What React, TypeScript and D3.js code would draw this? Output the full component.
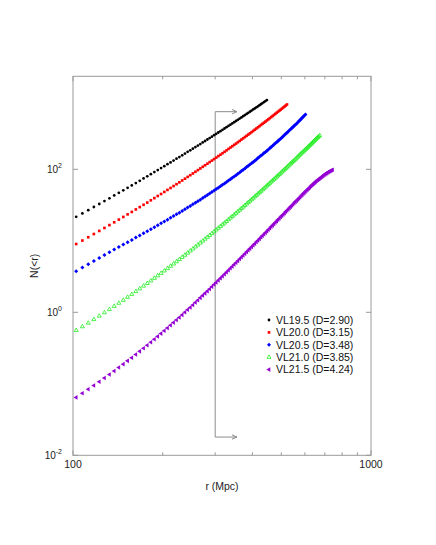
import React from "react";
import * as d3 from "d3";

// radius bins (Mpc), shared by all samples
const radii = [
  102.5, 107.5, 112.5, 117.5, 122.5, 127.5, 132.5, 137.5, 142.5, 147.5,
  152.5, 157.5, 162.5, 167.5, 172.5, 177.5, 182.5, 187.5, 192.5, 197.5,
  202.5, 207.5, 212.5, 217.5, 222.5, 227.5, 232.5, 237.5, 242.5, 247.5,
  252.5, 257.5, 262.5, 267.5, 272.5, 277.5, 282.5, 287.5, 292.5, 297.5,
  302.5, 307.5, 312.5, 317.5, 322.5, 327.5, 332.5, 337.5, 342.5, 347.5,
  352.5, 357.5, 362.5, 367.5, 372.5, 377.5, 382.5, 387.5, 392.5, 397.5,
  402.5, 407.5, 412.5, 417.5, 422.5, 427.5, 432.5, 437.5, 442.5, 447.5,
  452.5, 457.5, 462.5, 467.5, 472.5, 477.5, 482.5, 487.5, 492.5, 497.5,
  502.5, 507.5, 512.5, 517.5, 522.5, 527.5, 532.5, 537.5, 542.5, 547.5,
  552.5, 557.5, 562.5, 567.5, 572.5, 577.5, 582.5, 587.5, 592.5, 597.5,
  602.5, 607.5, 612.5, 617.5, 622.5, 627.5, 632.5, 637.5, 642.5, 647.5,
  652.5, 657.5, 662.5, 667.5, 672.5, 677.5, 682.5, 687.5, 692.5, 697.5,
  702.5, 707.5, 712.5, 717.5, 722.5, 727.5, 732.5, 737.5, 742.5,
];

// log10 N(<r) for each volume-limited sample
const vl195 = [
  1.335, 1.383, 1.428, 1.473, 1.515, 1.556, 1.595, 1.634, 1.671, 1.707,
  1.741, 1.775, 1.808, 1.84, 1.872, 1.902, 1.932, 1.961, 1.989, 2.017,
  2.044, 2.071, 2.097, 2.123, 2.148, 2.172, 2.196, 2.22, 2.244, 2.266,
  2.289, 2.311, 2.333, 2.354, 2.376, 2.396, 2.417, 2.437, 2.457, 2.477,
  2.496, 2.515, 2.534, 2.552, 2.571, 2.589, 2.607, 2.625, 2.642, 2.659,
  2.676, 2.693, 2.71, 2.726, 2.743, 2.759, 2.775, 2.791, 2.806, 2.821,
  2.837, 2.852, 2.867, 2.882, 2.897, 2.911, 2.926, 2.94, 2.954, 2.968,
];
const vl200 = [
  0.955, 1.004, 1.05, 1.095, 1.138, 1.18, 1.22, 1.259, 1.297, 1.334,
  1.37, 1.404, 1.439, 1.472, 1.504, 1.535, 1.567, 1.597, 1.627, 1.655,
  1.684, 1.712, 1.739, 1.766, 1.792, 1.818, 1.844, 1.869, 1.894, 1.918,
  1.942, 1.966, 1.989, 2.012, 2.035, 2.057, 2.079, 2.101, 2.122, 2.143,
  2.164, 2.185, 2.205, 2.225, 2.245, 2.265, 2.285, 2.304, 2.323, 2.342,
  2.36, 2.379, 2.397, 2.416, 2.434, 2.452, 2.469, 2.486, 2.503, 2.52,
  2.537, 2.555, 2.571, 2.588, 2.604, 2.621, 2.637, 2.652, 2.668, 2.684,
  2.699, 2.715, 2.731, 2.746, 2.761, 2.776, 2.791, 2.806, 2.82, 2.835,
  2.849, 2.864, 2.878, 2.892, 2.907,
];
const vl205 = [
  0.576, 0.626, 0.673, 0.718, 0.76, 0.801, 0.84, 0.877, 0.913, 0.947,
  0.981, 1.013, 1.045, 1.075, 1.105, 1.134, 1.162, 1.19, 1.217, 1.244,
  1.27, 1.296, 1.321, 1.346, 1.37, 1.394, 1.418, 1.442, 1.465, 1.487,
  1.51, 1.532, 1.555, 1.576, 1.598, 1.619, 1.64, 1.661, 1.682, 1.703,
  1.723, 1.743, 1.763, 1.783, 1.803, 1.823, 1.843, 1.862, 1.881, 1.9,
  1.918, 1.937, 1.957, 1.976, 1.994, 2.013, 2.031, 2.049, 2.067, 2.084,
  2.103, 2.121, 2.139, 2.157, 2.175, 2.192, 2.209, 2.227, 2.243, 2.26,
  2.278, 2.296, 2.313, 2.33, 2.347, 2.364, 2.38, 2.397, 2.413, 2.429,
  2.446, 2.463, 2.479, 2.496, 2.513, 2.529, 2.545, 2.561, 2.577, 2.593,
  2.608, 2.624, 2.639, 2.656, 2.672, 2.688, 2.704, 2.72, 2.736, 2.751,
  2.767,
];
const vl210 = [
  -0.253, -0.2, -0.15, -0.1, -0.052, -0.005, 0.04, 0.085, 0.128, 0.17,
  0.212, 0.252, 0.292, 0.33, 0.368, 0.405, 0.441, 0.477, 0.512, 0.546,
  0.58, 0.613, 0.646, 0.678, 0.709, 0.74, 0.77, 0.8, 0.83, 0.859,
  0.887, 0.916, 0.943, 0.971, 0.998, 1.025, 1.051, 1.077, 1.103, 1.128,
  1.153, 1.178, 1.202, 1.226, 1.25, 1.273, 1.297, 1.32, 1.343, 1.365,
  1.387, 1.409, 1.431, 1.453, 1.474, 1.495, 1.516, 1.537, 1.557, 1.578,
  1.598, 1.618, 1.637, 1.657, 1.676, 1.695, 1.714, 1.733, 1.752, 1.771,
  1.789, 1.807, 1.825, 1.843, 1.861, 1.878, 1.896, 1.913, 1.93, 1.947,
  1.964, 1.981, 1.998, 2.014, 2.031, 2.047, 2.063, 2.079, 2.095, 2.111,
  2.127, 2.142, 2.158, 2.173, 2.189, 2.204, 2.219, 2.234, 2.249, 2.264,
  2.278, 2.293, 2.307, 2.322, 2.336, 2.35, 2.364, 2.378, 2.392, 2.406,
  2.42, 2.434, 2.447, 2.461, 2.474,
];
const vl215 = [
  -1.19, -1.132, -1.077, -1.023, -0.97, -0.919, -0.869, -0.82, -0.773, -0.725,
  -0.679, -0.635, -0.59, -0.546, -0.503, -0.461, -0.419, -0.377, -0.337, -0.298,
  -0.259, -0.22, -0.182, -0.144, -0.108, -0.072, -0.036, 0.0, 0.035, 0.068,
  0.102, 0.136, 0.169, 0.202, 0.234, 0.265, 0.296, 0.327, 0.358, 0.388,
  0.418, 0.447, 0.476, 0.504, 0.532, 0.56, 0.588, 0.615, 0.642, 0.668,
  0.694, 0.719, 0.745, 0.77, 0.795, 0.819, 0.843, 0.867, 0.891, 0.914,
  0.937, 0.96, 0.983, 1.005, 1.027, 1.049, 1.071, 1.092, 1.113, 1.134,
  1.155, 1.175, 1.196, 1.216, 1.236, 1.255, 1.275, 1.294, 1.313, 1.332,
  1.351, 1.369, 1.387, 1.406, 1.423, 1.441, 1.459, 1.476, 1.494, 1.511,
  1.528, 1.545, 1.561, 1.578, 1.594, 1.61, 1.626, 1.642, 1.658, 1.673,
  1.689, 1.704, 1.718, 1.733, 1.747, 1.762, 1.776, 1.789, 1.801, 1.814,
  1.827, 1.84, 1.851, 1.862, 1.872, 1.882, 1.893, 1.903, 1.913, 1.923,
  1.933, 1.943, 1.95, 1.958, 1.965, 1.972, 1.979, 1.986, 1.993,
];

const legendLabels = [
  "VL19.5 (D=2.90)",
  "VL20.0 (D=3.15)",
  "VL20.5 (D=3.48)",
  "VL21.0 (D=3.85)",
  "VL21.5 (D=4.24)",
];

// vertical marker at r = 300 Mpc with two arrows
const cutRadius = 300;
const cutArrowTo = 355;
const cutNTop = 640;
const cutNBottom = 0.018;

const xTicksMajor = [100, 1000];
const xTicksMinor = [200, 300, 400, 500, 600, 700, 800, 900];
const yTicksMajor = [0.01, 1, 100];
const yTickExps = ["-2", "0", "2"];

const W = 436;
const H = 545;
const font = "'Liberation Sans', Arial, Helvetica, sans-serif";
const axisColor = "#9a9a9a";

const x = d3.scaleLog().domain([100, 1000]).range([73, 371]);
const y = d3.scaleLog().domain([0.01, 2000]).range([455.3, 76.3]);

const diamond = {
  draw(ctx: any, size: number) {
    const s = Math.sqrt(size / 2);
    ctx.moveTo(0, -s);
    ctx.lineTo(s, 0);
    ctx.lineTo(0, s);
    ctx.lineTo(-s, 0);
    ctx.closePath();
  },
};

const styles = [
  { data: vl195, color: "#000000", type: d3.symbolCircle, size: 6, filled: true, rot: 0 },
  { data: vl200, color: "#ff0000", type: d3.symbolSquare, size: 7, filled: true, rot: 0 },
  { data: vl205, color: "#0000ff", type: diamond, size: 8, filled: true, rot: 0 },
  { data: vl210, color: "#22ee22", type: d3.symbolTriangle, size: 7, filled: false, rot: 0 },
  { data: vl215, color: "#9400d3", type: d3.symbolTriangle, size: 9, filled: true, rot: -90 },
];

export default function App() {
  const axisBottom = 455.3;
  const axisTop = 76.3;
  const axisLeft = 73;
  const axisRight = 371;

  const arrowHead = (tx: number, ty: number) =>
    `M${tx - 5},${ty - 2.2} L${tx},${ty} L${tx - 5},${ty + 2.2}`;

  return (
    <svg
      width={W}
      height={H}
      style={{ position: "absolute", left: 0, top: 0, background: "#fff" }}
      fontFamily={font}
    >
      {/* frame */}
      <rect
        x={axisLeft}
        y={axisTop}
        width={axisRight - axisLeft}
        height={axisBottom - axisTop}
        fill="none"
        stroke={axisColor}
        strokeWidth={1}
      />

      {/* x ticks */}
      {xTicksMajor.map((t) => (
        <g key={"xM" + t}>
          <line x1={x(t)} x2={x(t)} y1={axisBottom} y2={axisBottom - 5} stroke={axisColor} />
          <line x1={x(t)} x2={x(t)} y1={axisTop} y2={axisTop + 5} stroke={axisColor} />
          <text x={x(t)} y={axisBottom + 13} fontSize={10.5} textAnchor="middle" fill="#222">
            {t}
          </text>
        </g>
      ))}
      {xTicksMinor.map((t) => (
        <g key={"xm" + t}>
          <line x1={x(t)} x2={x(t)} y1={axisBottom} y2={axisBottom - 3} stroke={axisColor} />
          <line x1={x(t)} x2={x(t)} y1={axisTop} y2={axisTop + 3} stroke={axisColor} />
        </g>
      ))}

      {/* y ticks */}
      {yTicksMajor.map((t, i) => (
        <g key={"y" + t}>
          <line x1={axisLeft} x2={axisLeft + 5} y1={y(t)} y2={y(t)} stroke={axisColor} />
          <line x1={axisRight} x2={axisRight - 5} y1={y(t)} y2={y(t)} stroke={axisColor} />
          <text x={62} y={y(t) + 4} fontSize={10} textAnchor="end" fill="#222">
            10
            <tspan fontSize={7} dy={-5}>
              {yTickExps[i]}
            </tspan>
          </text>
        </g>
      ))}

      {/* axis titles */}
      <text x={(axisLeft + axisRight) / 2} y={490} fontSize={10.5} textAnchor="middle" fill="#222">
        r (Mpc)
      </text>
      <text
        transform={`translate(38,${(axisTop + axisBottom) / 2}) rotate(-90)`}
        fontSize={10.5}
        textAnchor="middle"
        fill="#222"
      >
        N(&lt;r)
      </text>

      {/* r = 300 marker */}
      <g stroke="#8c8c8c" strokeWidth={1} fill="none">
        <line x1={x(cutRadius)} x2={x(cutRadius)} y1={y(cutNTop)} y2={y(cutNBottom)} />
        <line x1={x(cutRadius)} x2={x(cutArrowTo)} y1={y(cutNTop)} y2={y(cutNTop)} />
        <line x1={x(cutRadius)} x2={x(cutArrowTo)} y1={y(cutNBottom)} y2={y(cutNBottom)} />
        <path d={arrowHead(x(cutArrowTo), y(cutNTop))} />
        <path d={arrowHead(x(cutArrowTo), y(cutNBottom))} />
      </g>

      {/* data */}
      {styles.map((s, si) => {
        const path = d3.symbol().type(s.type as any).size(s.size)()!;
        return (
          <g key={"s" + si}>
            {s.data.map((v, i) => (
              <path
                key={i}
                d={path}
                transform={`translate(${x(radii[i])},${y(Math.pow(10, v))}) rotate(${s.rot})`}
                fill={s.filled ? s.color : "none"}
                stroke={s.filled ? "none" : s.color}
                strokeWidth={0.8}
              />
            ))}
          </g>
        );
      })}

      {/* legend */}
      {legendLabels.map((label, i) => {
        const s = styles[i];
        const cy = 320 + i * 12.4;
        const path = d3.symbol().type(s.type as any).size(s.size)()!;
        return (
          <g key={"l" + i}>
            <path
              d={path}
              transform={`translate(269,${cy}) rotate(${s.rot})`}
              fill={s.filled ? s.color : "none"}
              stroke={s.filled ? "none" : s.color}
              strokeWidth={0.8}
            />
            <text x={276} y={cy + 3.8} fontSize={10.5} fill="#111">
              {label}
            </text>
          </g>
        );
      })}
    </svg>
  );
}
